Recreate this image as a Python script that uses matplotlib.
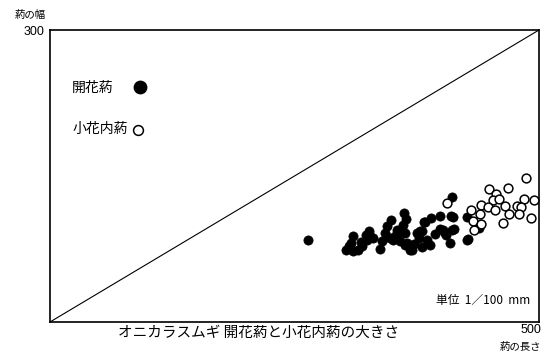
import matplotlib
matplotlib.use("Agg")
import matplotlib.pyplot as plt

plt.rcParams['font.family'] = ['Noto Sans CJK JP', 'DejaVu Sans']

# Anther length / width (unit: 1/100 mm)
open_len = [264, 310, 308, 303, 310, 315, 319, 324, 326, 323, 327, 337, 339, 343,
            345, 349, 362, 364, 355, 348, 358, 363, 368, 375, 360, 355, 353, 361,
            363, 365, 370, 377, 380, 383, 390, 399, 410, 399, 404, 411, 409, 385,
            380, 389, 351, 426, 426, 411, 439, 412, 402, 405, 427, 382, 378, 413,
            306, 318, 330, 372, 394]
open_wid = [84, 88, 81, 74, 73, 74, 78, 84, 93, 89, 88, 75, 83, 91,
            99, 105, 112, 106, 89, 86, 83, 79, 74, 91, 95, 95, 88, 100,
            91, 81, 74, 86, 93, 103, 107, 109, 109, 96, 91, 95, 81, 84,
            77, 79, 84, 84, 108, 128, 97, 108, 95, 89, 85, 103, 93, 96,
            78, 82, 86, 80, 90]

inner_len = [406, 430, 441, 449, 456, 468, 487, 453, 459, 448, 455, 440, 465,
             469, 477, 485, 482, 480, 495, 492, 463, 433, 441, 434]
inner_wid = [122, 115, 120, 137, 132, 138, 148, 125, 126, 118, 115, 111, 119,
             111, 119, 126, 118, 111, 125, 107, 102, 104, 101, 95]

x_max = 500
y_max = 300

W, H = 558, 357
fig = plt.figure(figsize=(W / 100, H / 100), dpi=100)
ax = fig.add_axes([50 / W, 1 - 322 / H, 489 / W, 292 / H])
ax.set_xlim(0, x_max)
ax.set_ylim(0, y_max)
ax.set_xticks([])
ax.set_yticks([])
for s in ax.spines.values():
    s.set_linewidth(1.2)
    s.set_color('black')

# reference line of equal proportion
ax.plot([0, x_max], [0, y_max], color='black', lw=0.8)

ax.scatter(open_len, open_wid, s=44, color='black', edgecolors='black',
           linewidths=0.5, zorder=3)
ax.scatter(inner_len, inner_wid, s=40, facecolors='white', edgecolors='black',
           linewidths=1.1, zorder=3)

# key
ax.text(0.045, 0.801, '開花葯', transform=ax.transAxes, fontsize=10,
        ha='left', va='center')
ax.scatter([0.184], [0.805], s=80, color='black', transform=ax.transAxes,
           clip_on=False)
ax.text(0.045, 0.661, '小花内葯', transform=ax.transAxes, fontsize=10,
        ha='left', va='center')
ax.scatter([0.180], [0.658], s=50, facecolors='white', edgecolors='black',
           linewidths=1.1, transform=ax.transAxes, clip_on=False)

ax.text(0.983, 0.075, '単位  1／100  mm', transform=ax.transAxes, fontsize=8.5,
        ha='right', va='center')

# axis annotations
fig.text(15 / W, 1 - 15 / H, '葯の幅', fontsize=7.5, ha='left', va='center')
fig.text(44 / W, 1 - 32 / H, str(y_max), fontsize=9, ha='right', va='center',
         family=['Liberation Sans', 'DejaVu Sans'])
fig.text(541 / W, 1 - 330 / H, str(x_max), fontsize=9, ha='right', va='center',
         family=['Liberation Sans', 'DejaVu Sans'])
fig.text(541 / W, 1 - 347 / H, '葯の長さ', fontsize=7.5, ha='right', va='center')

fig.text(259 / W, 1 - 333 / H, 'オニカラスムギ 開花葯と小花内葯の大きさ',
         fontsize=10.5, ha='center', va='center')

fig.savefig('out.png', dpi=100)
